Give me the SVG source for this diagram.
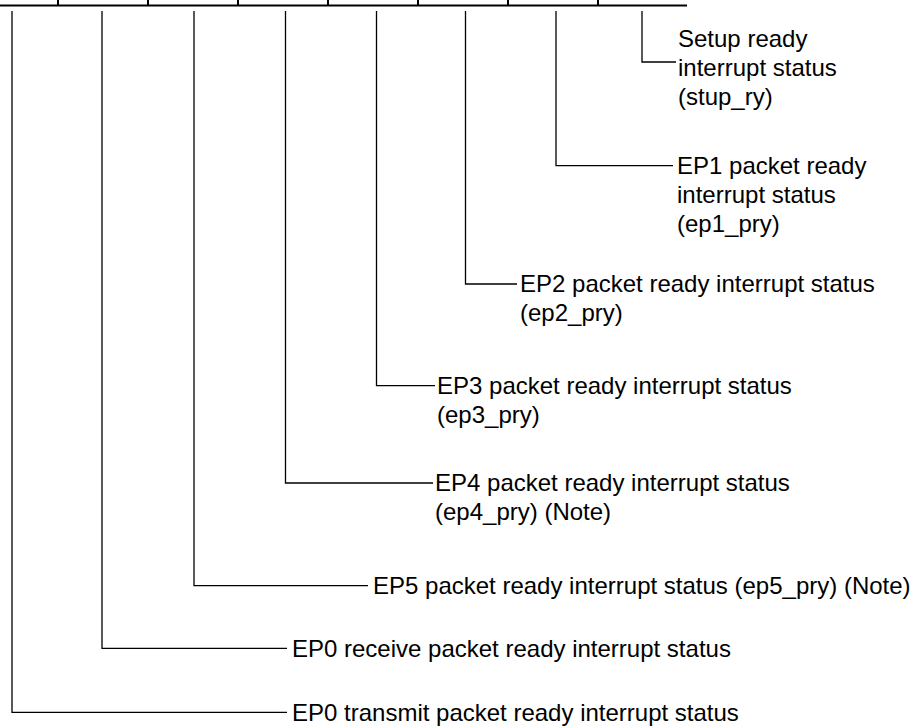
<svg xmlns="http://www.w3.org/2000/svg" width="920" height="727" viewBox="0 0 920 727">
<style>
  .ln { stroke: #000; stroke-width: 1.3; fill: none; }
  .top { stroke: #000; stroke-width: 2; fill: none; }
  .t { font-family: "Liberation Sans", Arial, sans-serif; font-size: 24px; fill: #000; }
</style>
<rect width="920" height="727" fill="#fff"/>
<g id="register">
  <line class="top" x1="0" y1="5.5" x2="687" y2="5.5"/>
  <path class="top" d="M58,0V5.5 M148,0V5.5 M238,0V5.5 M328,0V5.5 M418,0V5.5 M508,0V5.5 M598,0V5.5"/>
</g>
<g id="connectors">
  <path class="ln" d="M642,11V62H676"/>
  <path class="ln" d="M556,11V165.7H673"/>
  <path class="ln" d="M465.5,11V284H517"/>
  <path class="ln" d="M376.5,11V385.7H435"/>
  <path class="ln" d="M285.5,11V483H433"/>
  <path class="ln" d="M194,11V585.7H368"/>
  <path class="ln" d="M102,11V648.3H287"/>
  <path class="ln" d="M12,11V712.3H287"/>
</g>
<g id="stup_ry">
  <text class="t" x="678" y="47">Setup ready</text>
  <text class="t" x="678" y="76">interrupt status</text>
  <text class="t" x="678" y="105">(stup_ry)</text>
</g>
<g id="ep1_pry">
  <text class="t" x="677" y="173.5">EP1 packet ready</text>
  <text class="t" x="677" y="202.5">interrupt status</text>
  <text class="t" x="677" y="231.5">(ep1_pry)</text>
</g>
<g id="ep2_pry">
  <text class="t" x="520" y="292">EP2 packet ready interrupt status</text>
  <text class="t" x="520" y="321">(ep2_pry)</text>
</g>
<g id="ep3_pry">
  <text class="t" x="437" y="393.5">EP3 packet ready interrupt status</text>
  <text class="t" x="437" y="422.5">(ep3_pry)</text>
</g>
<g id="ep4_pry">
  <text class="t" x="435" y="491">EP4 packet ready interrupt status</text>
  <text class="t" x="435" y="520">(ep4_pry) (Note)</text>
</g>
<g id="ep5_pry">
  <text class="t" x="373" y="593.5">EP5 packet ready interrupt status (ep5_pry) (Note)</text>
</g>
<g id="ep0_rx">
  <text class="t" x="292" y="656.5">EP0 receive packet ready interrupt status</text>
</g>
<g id="ep0_tx">
  <text class="t" x="292" y="720.5">EP0 transmit packet ready interrupt status</text>
</g>
</svg>
